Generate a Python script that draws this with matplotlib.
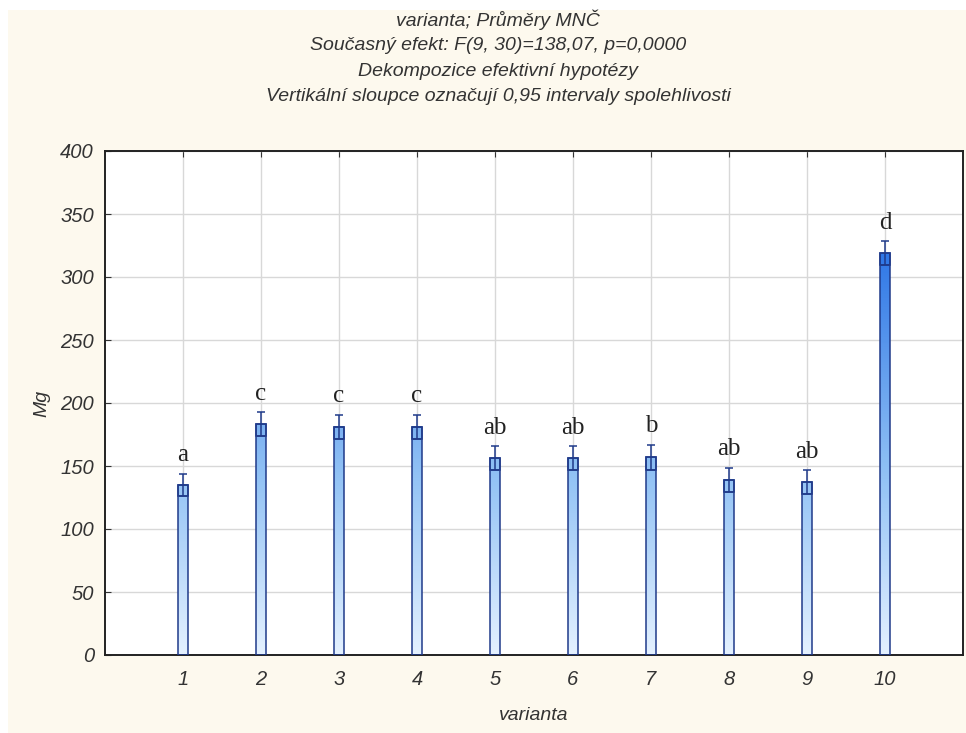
import numpy as np
import matplotlib
matplotlib.use("Agg")
import matplotlib.pyplot as plt
from matplotlib.patches import Rectangle
from matplotlib.colors import LinearSegmentedColormap

# ---- data ----
categories = [1, 2, 3, 4, 5, 6, 7, 8, 9, 10]
means = [135, 183, 181, 181, 156, 156, 157, 139, 137, 319]
ci_half = [9, 9.5, 9.5, 9.5, 9.5, 9.5, 10, 9.5, 9.5, 9.5]
letters = ["a", "c", "c", "c", "ab", "ab", "b", "ab", "ab", "d"]
yticks = [0, 50, 100, 150, 200, 250, 300, 350, 400]
title_lines = [
    "varianta; Průměry MNČ",
    "Současný efekt: F(9, 30)=138,07, p=0,0000",
    "Dekompozice efektivní hypotézy",
    "Vertikální sloupce označují 0,95 intervaly spolehlivosti",
]
xlabel = "varianta"
ylabel = "Mg"

plt.rcParams['font.family'] = ['Liberation Sans', 'DejaVu Sans']

W, H = 966, 733
fig = plt.figure(figsize=(W / 100, H / 100), dpi=100)
fig.patch.set_facecolor("white")
fig.patches.append(Rectangle((8 / W, 0), 1, 1 - 10 / H, transform=fig.transFigure,
                             facecolor="#fdf9ee", edgecolor="none", zorder=-10))

ax = fig.add_axes([105 / W, 1 - 655 / H, (963 - 105) / W, (655 - 151) / H])
ax.set_facecolor("white")
ax.set_xlim(0, 11)
ax.set_ylim(0, 400)

cmap = LinearSegmentedColormap.from_list(
    "blues", [(0.0, "#e4f1ff"), (0.35, "#93c3f5"), (0.8, "#2f77e6"), (1.0, "#1f62d8")])

bw = 0.125
edge = "#1f3a8a"
for x, m, c, lab in zip(categories, means, ci_half, letters):
    grad = np.linspace(0, m / 400, 200).reshape(-1, 1)
    ax.imshow(grad, extent=(x - bw / 2, x + bw / 2, 0, m), origin="lower",
              aspect="auto", cmap=cmap, vmin=0, vmax=1, zorder=2, interpolation="bilinear")
    ax.bar(x, m, width=bw, facecolor="none", edgecolor=edge, linewidth=1.1, zorder=3)
    ax.bar(x, c, bottom=m - c, width=bw, facecolor="none", edgecolor=edge,
           linewidth=1.1, zorder=4)
    ax.errorbar(x, m, yerr=[[c], [c]], fmt="none", ecolor=edge, elinewidth=1.1,
                capsize=2.8, capthick=1.1, zorder=5)
    ax.annotate(lab, (x, m + c), xytext=(0, 9), textcoords="offset points",
                ha="center", va="baseline", fontsize=18, family="Liberation Serif",
                color="#222222", zorder=6)

ax.set_xticks(categories)
ax.set_xticklabels([str(c) for c in categories])
ax.set_yticks(yticks)
ax.set_yticklabels([str(v) for v in yticks])
ax.grid(True, color="#d8d8d8", linewidth=1.0, zorder=0)
ax.set_axisbelow(True)
ax.tick_params(axis="both", direction="in", length=4, color="#333333",
               labelsize=14.5, labelcolor="#333333")
ax.tick_params(axis="x", top=True, pad=11)
ax.tick_params(axis="y", pad=8)
for t in ax.get_xticklabels() + ax.get_yticklabels():
    t.set_fontstyle("italic")
for s in ax.spines.values():
    s.set_color("#222222")
    s.set_linewidth(1.4)

ax.set_xlabel(xlabel, fontsize=14, fontstyle="italic", color="#333333", labelpad=13)
ax.set_ylabel(ylabel, fontsize=14, fontstyle="italic", color="#333333", labelpad=7)

for i, line in enumerate(title_lines):
    yy = 20 + i * 25.5
    fig.text(498 / W, 1 - yy / H, line, ha="center", va="center", fontsize=14,
             fontstyle="italic", color="#333333")

fig.savefig("out.png", dpi=100)
